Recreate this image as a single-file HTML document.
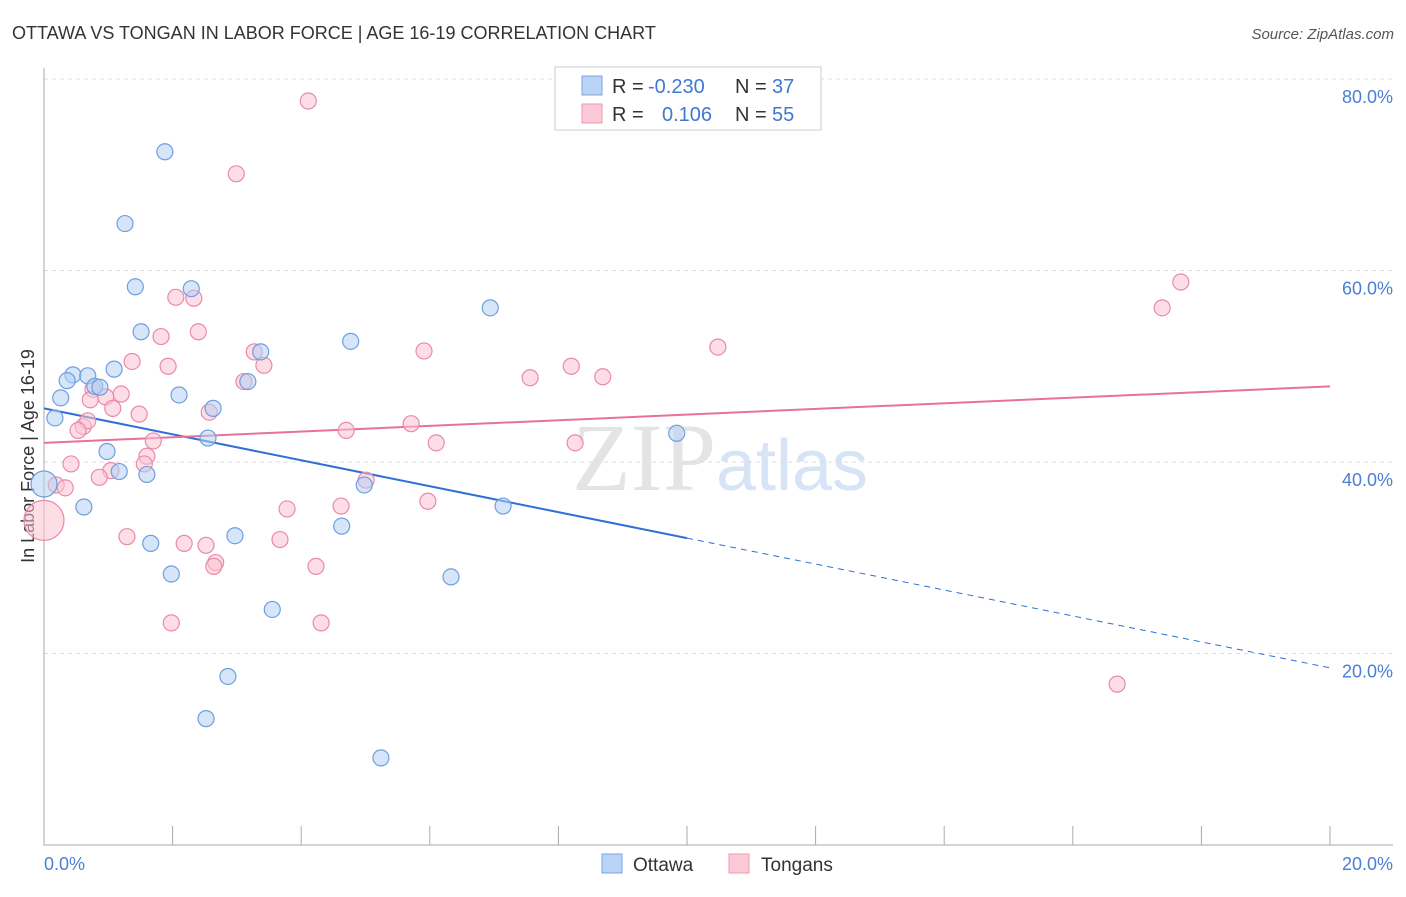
<!DOCTYPE html>
<html><head><meta charset="utf-8"><style>
body{margin:0;background:#fff;font-family:"Liberation Sans",sans-serif}
</style></head><body>
<svg id="c" width="1406" height="892" xmlns="http://www.w3.org/2000/svg" font-family="Liberation Sans, sans-serif">
<text x="12" y="39" font-size="18" fill="#333">OTTAWA VS TONGAN IN LABOR FORCE | AGE 16-19 CORRELATION CHART</text>
<text x="1394" y="39" font-size="15" fill="#555" text-anchor="end" font-style="italic">Source: ZipAtlas.com</text>
<text x="720" y="490" font-size="96" text-anchor="middle"><tspan fill="#e4e4e4" font-family="Liberation Serif, serif">ZIP</tspan><tspan fill="#d6e4f6" font-size="72">atlas</tspan></text>
<text transform="translate(34,456) rotate(-90)" font-size="18" fill="#333" text-anchor="middle">In Labor Force | Age 16-19</text>
<g id="grid"></g><g id="ticks"></g><g id="lines"></g><g id="pts"></g>
<g>
<rect x="555" y="67" width="266" height="63" fill="#fff" stroke="#ccc"/>
<rect x="582" y="76" width="20" height="19" fill="#b9d3f4" stroke="#7aa6e0"/>
<rect x="582" y="104" width="20" height="19" fill="#fcc9d7" stroke="#eb98b2"/>
<text x="612" y="93" font-size="20" fill="#333">R =</text>
<text x="648" y="93" font-size="20" fill="#3f78d4">-0.230</text>
<text x="735" y="93" font-size="20" fill="#333">N =</text>
<text x="772" y="93" font-size="20" fill="#3f78d4">37</text>
<text x="612" y="121" font-size="20" fill="#333">R =</text>
<text x="662" y="121" font-size="20" fill="#3f78d4">0.106</text>
<text x="735" y="121" font-size="20" fill="#333">N =</text>
<text x="772" y="121" font-size="20" fill="#3f78d4">55</text>
</g>
<g>
<rect x="602" y="854" width="20" height="19" fill="#b9d3f4" stroke="#7aa6e0"/>
<text x="633" y="871" font-size="19" fill="#333">Ottawa</text>
<rect x="729" y="854" width="20" height="19" fill="#fcc9d7" stroke="#eb98b2"/>
<text x="761" y="871" font-size="19" fill="#333">Tongans</text>
</g>
</svg>
<script>
const yTicks=[20,40,60,80];
const xTickLabels=["0.0%","20.0%"];
const ottawaX=[1.88,1.26,1.42,2.29,6.94,1.51,4.77,3.37,1.09,0.45,0.68,0.36,0.79,0.87,3.17,0.26,2.10,2.63,0.17,2.55,9.84,0.98,1.17,1.60,4.98,0,0.62,7.14,4.63,2.97,1.66,1.98,6.33,3.55,2.86,2.52,5.24];
const ottawaY=[72.4,64.9,58.3,58.1,56.1,53.6,52.6,51.5,49.7,49.1,49.0,48.5,47.9,47.8,48.4,46.7,47.0,45.6,44.6,42.5,43.0,41.1,39.0,38.7,37.6,37.7,35.3,35.4,33.3,32.3,31.5,28.3,28.0,24.6,17.6,13.2,9.1];
const tonganX=[4.11,2.99,17.68,17.39,2.05,2.33,2.40,1.82,10.48,5.91,3.27,1.37,1.93,3.42,8.20,7.56,8.69,3.11,0.76,1.20,0.96,1.07,1.48,2.57,5.71,4.70,0.61,0.68,0.53,1.70,6.10,8.26,1.60,0.42,1.56,1.04,0.86,5.01,0.19,0.33,0,5.97,4.62,3.78,1.29,2.18,2.52,3.67,2.67,2.64,4.23,1.98,4.31,16.69,0.72];
const tonganY=[77.7,70.1,58.8,56.1,57.2,57.1,53.6,53.1,52.0,51.6,51.5,50.5,50.0,50.1,50.0,48.8,48.9,48.4,47.6,47.1,46.8,45.6,45.0,45.2,44.0,43.3,43.7,44.3,43.3,42.2,42.0,42.0,40.6,39.8,39.8,39.1,38.4,38.1,37.6,37.3,33.9,35.9,35.4,35.1,32.2,31.5,31.3,31.9,29.5,29.1,29.1,23.2,23.2,16.8,46.5];
const ottawaBig=[25]; const tonganBig=[40];
const blueFit=[45.6,18.5]; const pinkFit=[42.0,47.9];
const X=v=>44+v*64.3, Y=v=>845-v*9.575;
const NS="http://www.w3.org/2000/svg";
function mk(t,a,p){const e=document.createElementNS(NS,t);for(const k in a)e.setAttribute(k,a[k]);p.appendChild(e);return e;}
const g=document.getElementById('grid'),tk=document.getElementById('ticks'),ln=document.getElementById('lines'),pt=document.getElementById('pts');
yTicks.forEach(v=>{
 const l=mk('line',{x1:44,x2:1393,y1:Y(v),y2:Y(v),stroke:'#ddd','stroke-dasharray':'4,4'},g);
 
 
 const t=mk('text',{x:1393,y:Y(v)+24,'font-size':18,fill:'#4a7fd4','text-anchor':'end'},tk);t.textContent=v.toFixed(1)+'%';
 
 
});
const ax=mk('path',{d:'M44,68V845H1393',stroke:'#aaa',fill:'none'},tk);


for(let i=0;i<=10;i++){const tl=mk('line',{x1:X(i*2),x2:X(i*2),y1:826,y2:845,stroke:'#aaa'},tk);
 
 }
[[0,'start',44],[20,'end',1393]].forEach((d,i)=>{const t=mk('text',{x:d[2],y:870,'font-size':18,fill:'#4a7fd4','text-anchor':d[1]},tk);t.textContent=xTickLabels[i];
 
 });
function pts(xs,ys,big,fill,stroke,name){xs.forEach((x,i)=>{const c=mk('circle',{cx:X(x),cy:Y(ys[i]),r:big.includes(i)?(name=='tongan'?20:13):8,fill:fill,'fill-opacity':0.55,stroke:stroke,'stroke-width':1.2},pt);
 
 });}
pts(tonganX,tonganY,tonganBig,'#fbc3d3','#e98aa8','tongan');
pts(ottawaX,ottawaY,ottawaBig,'#b4cff2','#6e9fe0','ottawa');
const fb=v=>blueFit[0]+(blueFit[1]-blueFit[0])*v/20, fp=v=>pinkFit[0]+(pinkFit[1]-pinkFit[0])*v/20;
let l1=mk('line',{x1:X(0),y1:Y(fb(0)),x2:X(10),y2:Y(fb(10)),stroke:'#2f6fd6','stroke-width':2},ln);


let l2=mk('line',{x1:X(10),y1:Y(fb(10)),x2:X(20),y2:Y(fb(20)),stroke:'#2f6fd6','stroke-width':1,'stroke-dasharray':'6,5'},ln);


let l3=mk('line',{x1:X(0),y1:Y(fp(0)),x2:X(20),y2:Y(fp(20)),stroke:'#e8709a','stroke-width':2},ln);


</script>
</body></html>
